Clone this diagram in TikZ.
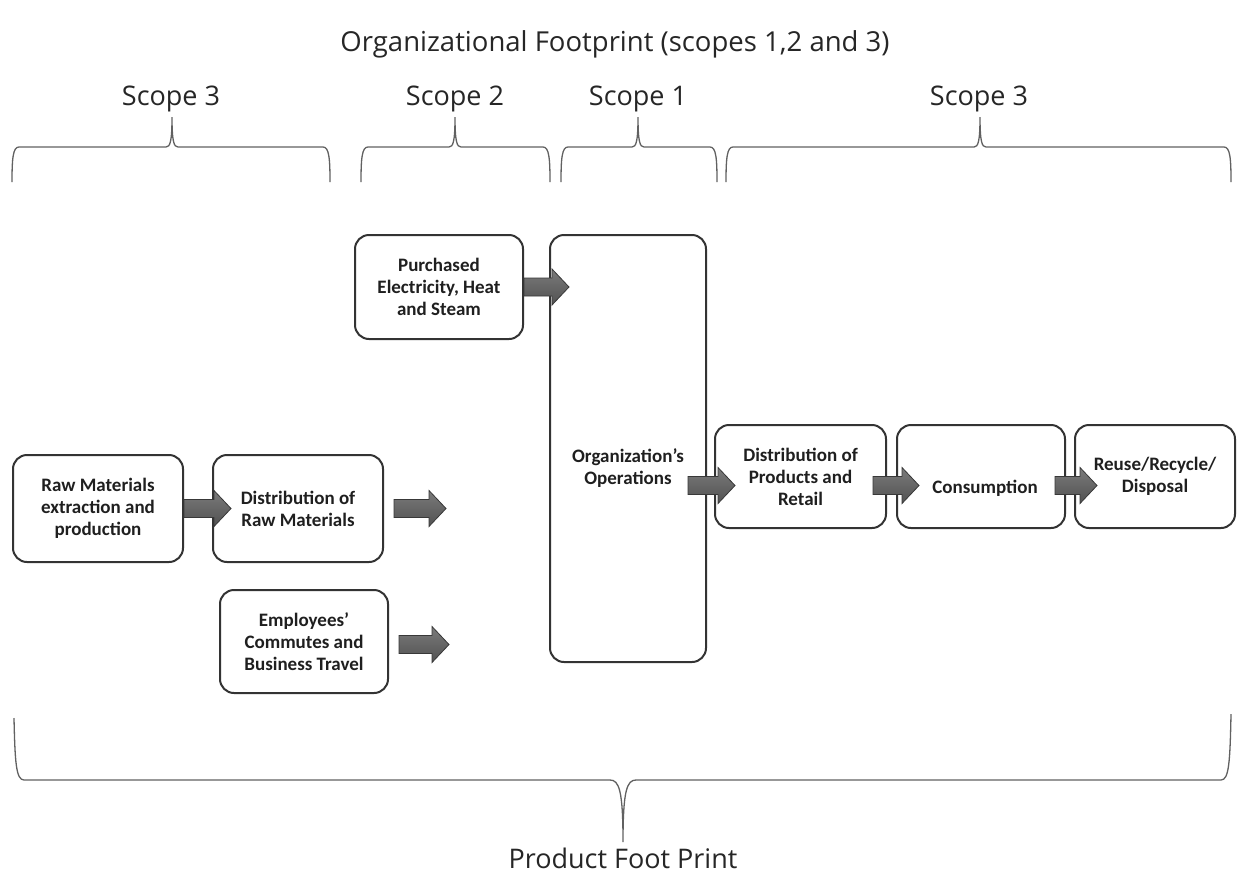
\documentclass[tikz,border=0pt]{standalone}
\usepackage{fontspec}
\setmainfont{Open Sans}
\newfontfamily\boxfont{Carlito}
\usetikzlibrary{calc}

% thick block arrow from #1 (tail) to #2 (tip), horizontal at the tail's height
\newcommand\flowarrow[2]{%
  \path[flowarrowstyle] let \p1=(#1), \p2=(#2) in
    (\x1,{\y1+9pt}) -- ({\x2-17pt},{\y1+9pt}) -- ({\x2-17pt},{\y1+18pt}) --
    (\x2,\y1) -- ({\x2-17pt},{\y1-18pt}) -- ({\x2-17pt},{\y1-9pt}) --
    (\x1,{\y1-9pt}) -- cycle;}

% upward curly brace: left end, tip, right end (x values)
\newcommand\upbrace[3]{%
  \draw[bracestyle] (#1,182) .. controls (#1,158) and ({#1+1},147) .. ({#1+7},147)
    -- ({#2-6},147) .. controls ({#2-2},147) and (#2,142) .. (#2,117)
    .. controls (#2,142) and ({#2+2},147) .. ({#2+6},147)
    -- ({#3-7},147) .. controls ({#3-1},147) and (#3,158) .. (#3,182);}

\tikzset{
  stepbox/.style={draw=black!80, line width=2pt, rounded corners=14pt, fill=white,
    align=center, inner sep=0pt, font=\boxfont\bfseries\fontsize{19}{22}\selectfont,
    text=black!88},
  boxtext/.style={align=center, inner sep=0pt,
    font=\boxfont\bfseries\fontsize{19}{22}\selectfont, text=black!88},
  flowarrowstyle/.style={top color=black!52, bottom color=black!68, draw=black!78,
    line width=0.8pt},
  bracestyle/.style={draw=black!62, line width=1.3pt},
  heading/.style={anchor=base, inner sep=0pt, text=black!85},
}

\begin{document}
\begin{tikzpicture}[x=1pt, y=-1pt]
  \useasboundingbox[fill=white] (0,0) rectangle (1238,873);

  % headings
  \node[heading, font=\fontsize{27.5}{32}\selectfont] (title) at (615,51)
    {Organizational Footprint (scopes 1,2 and 3)};
  \node[heading, font=\fontsize{27}{32}\selectfont] (s3a) at (171,105) {Scope 3};
  \node[heading, font=\fontsize{27}{32}\selectfont] (s2) at (455,105) {Scope 2};
  \node[heading, font=\fontsize{27}{32}\selectfont] (s1) at (638,105) {Scope 1};
  \node[heading, font=\fontsize{27}{32}\selectfont] (s3b) at (979,105) {Scope 3};
  \node[heading, font=\fontsize{27}{32}\selectfont] (product) at (623,868) {Product Foot Print};

  % scope braces
  \upbrace{12}{172}{330}
  \upbrace{361}{455}{550}
  \upbrace{561}{638}{717}
  \upbrace{726}{980}{1231}

  % product footprint brace
  \draw[bracestyle] (14,718) .. controls (15,762) and (16,780) .. (24,780)
    -- (610,780) .. controls (619,780) and (623,790) .. (623,842)
    .. controls (623,790) and (627,780) .. (636,780)
    -- (1221,780) .. controls (1229,780) and (1230,762) .. (1231,714);

  % process boxes
  \node[stepbox, minimum width=168pt, minimum height=104pt] (purch) at (439,287)
    {Purchased\\Electricity, Heat\\and Steam};
  \node[stepbox, minimum width=156pt, minimum height=427pt] (org) at (628,448.5) {};
  \node[boxtext] (orgtext) at (628,468) {Organization’s\\Operations};
  \node[stepbox, minimum width=170pt, minimum height=107pt] (raw) at (98,508.5)
    {Raw Materials\\extraction and\\production};
  \node[stepbox, minimum width=170pt, minimum height=107pt] (distraw) at (298,508.5)
    {Distribution of\\Raw Materials};
  \node[stepbox, minimum width=168pt, minimum height=103pt] (emp) at (304,641.5)
    {Employees’\\Commutes and\\Business Travel};
  \node[stepbox, minimum width=171pt, minimum height=103pt] (dp) at (800.5,476.5)
    {Distribution of\\Products and\\Retail};
  \node[stepbox, minimum width=168pt, minimum height=103pt] (cons) at (981,476.5) {};
  \node[boxtext] (constext) at (985,488) {Consumption};
  \node[stepbox, minimum width=160pt, minimum height=103pt] (reuse) at (1155,476.5)
    {Reuse/Recycle/\\Disposal};

  % free arrow ends
  \coordinate (rawin) at ($(distraw.east)+(62,0)$);
  \coordinate (travelin) at ($(emp.east)+(60,3)$);

  % block arrows
  \flowarrow{purch.east}{$(org.west |- purch.east)+(20,0)$}
  \flowarrow{raw.east}{$(distraw.west)+(19,0)$}
  \flowarrow{$(distraw.east)+(10,0)$}{rawin}
  \flowarrow{$(emp.east)+(10,3)$}{travelin}
  \flowarrow{$(org.east |- dp.center)+(-19,9)$}{$(dp.west)+(21,9)$}
  \flowarrow{$(dp.east)+(-14,9)$}{$(cons.west)+(23,9)$}
  \flowarrow{$(cons.east)+(-11,9)$}{$(reuse.west)+(23,9)$}
\end{tikzpicture}
\end{document}
